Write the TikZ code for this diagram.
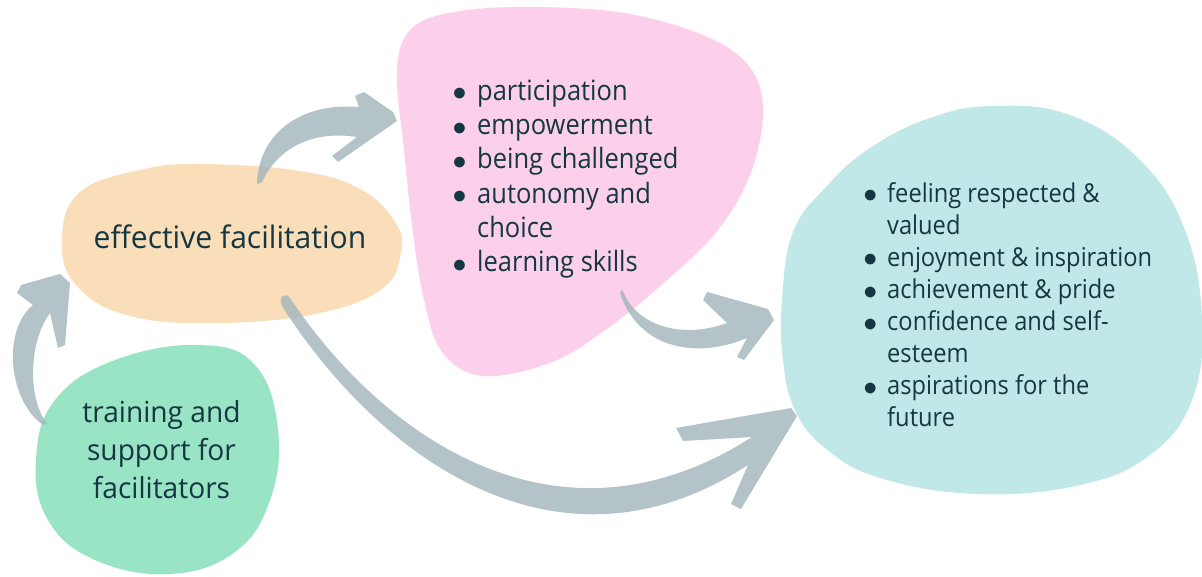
\documentclass[tikz,border=0pt]{standalone}
\usepackage{fontspec}
\setmainfont{Open Sans}[FakeStretch=0.91]
\newfontfamily\labelfont{Open Sans}[FakeStretch=0.97]
\usetikzlibrary{math}

\definecolor{orangeblob}{RGB}{250,222,186}
\definecolor{pinkblob}{RGB}{252,208,235}
\definecolor{greenblob}{RGB}{153,228,197}
\definecolor{tealblob}{RGB}{193,232,232}
\definecolor{arrowgrey}{RGB}{160,180,186}
\definecolor{ink}{RGB}{20,55,65}

\newcommand{\blt}{\llap{\raisebox{-0.03em}{\scalebox{1.12}{$\bullet$}}\hspace{0.38em}}}

\begin{document}
\begin{tikzpicture}[x=1pt, y=-1pt,
    flow/.style={fill=arrowgrey, fill opacity=0.8},
    lbl/.style={text=ink, align=center, inner sep=0pt},
    row/.style={text=ink, inner sep=0pt, anchor=base west}]

    \useasboundingbox (0,0) rectangle (1202,576);

    % blobs
    \fill[orangeblob] plot[smooth cycle, tension=0.7] coordinates {(62,238) (80,192) (140,170) (200,164) (300,171) (360,189) (395,222) (401,252) (383,288) (320,313) (220,323) (130,316) (76,285)};
    \fill[greenblob] plot[smooth cycle, tension=0.7] coordinates {(36,460) (55,400) (115,360) (200,345) (255,365) (278,430) (270,500) (235,552) (170,574) (95,560) (48,520)};
    \fill[pinkblob] plot[smooth cycle, tension=0.6] coordinates {(397,70) (412,28) (460,11) (540,7) (630,14) (710,38) (752,70) (763,115) (750,175) (718,230) (665,282) (600,334) (547,364) (482,376) (442,352) (424,300) (413,233) (404,150)};
    \fill[tealblob] plot[smooth cycle, tension=0.7] coordinates {(782,300) (793,232) (826,187) (870,148) (930,118) (993,106) (1070,115) (1140,160) (1185,230) (1202,320) (1192,400) (1150,455) (1080,485) (977,494) (880,478) (825,448) (795,410) (783,360)};

    % labels
    \node[lbl, font=\labelfont\fontsize{31}{38}\selectfont] (effective) at (230,236.5) {effective facilitation};
    \node[lbl, font=\labelfont\fontsize{29}{37.7}\selectfont] (training) at (161.5,449.5) {training and\\support for\\facilitators};

    \foreach \txt [count=\i] in {\blt participation, \blt empowerment, \blt being challenged, \blt autonomy and, choice, \blt learning skills}
        \node[row, font=\fontsize{28}{34}\selectfont] (pink\i) at (477,{100+34.35*(\i-1)}) {\txt};
    \foreach \txt [count=\i] in {\blt feeling respected \&, valued, \blt enjoyment \& inspiration, \blt achievement \& pride, \blt confidence and self-, esteem, \blt aspirations for the, future}
        \node[row, font=\fontsize{26}{32}\selectfont] (teal\i) at (887,{202+32.1*(\i-1)}) {\txt};

    % arrow ends
    \coordinate (trainTail) at (43,425);
    \coordinate (trainTip) at (70,283);
    \coordinate (effTail) at (257,184);
    \coordinate (effTip) at (397,121);
    \coordinate (pinkTail) at (622,289);
    \coordinate (pinkTip) at (774,320);
    \coordinate (bigTail) at (290,298);
    \coordinate (bigTip) at (797,416);

    % arrows
    \fill[flow] (trainTail) .. controls (8,400) and (2,330) .. (33,305) -- (17,293) -- (21,285)
        -- (60,274) -- (trainTip) -- (65,345) -- (58,348) -- (50,313)
        .. controls (30,340) and (26,395) .. (47,424) -- cycle;
    \fill[flow] (effTail) .. controls (258,136) and (298,102) .. (359,107) -- (355,96) -- (364,92)
        -- (393,112) -- (effTip) -- (338,162) -- (332,156) -- (357,137)
        .. controls (312,130) and (278,148) .. (262,182) -- cycle;
    \fill[flow] (pinkTail) .. controls (635,325) and (680,340) .. (727,323) -- (703,300) -- (707,292)
        -- (768,309) -- (pinkTip) -- (744,360) -- (737,357) -- (747,338)
        .. controls (700,358) and (640,352) .. (620,293) -- cycle;
    \fill[flow] (bigTail) .. controls (385,440) and (560,560) .. (752,437) -- (683,441) -- (676,428)
        -- (791,408) -- (bigTip) -- (741,509) -- (731,504) -- (748,465)
        .. controls (556,590) and (377,455) .. (282,306) .. controls (278,296) and (285,292) .. (bigTail) -- cycle;

\end{tikzpicture}
\end{document}
